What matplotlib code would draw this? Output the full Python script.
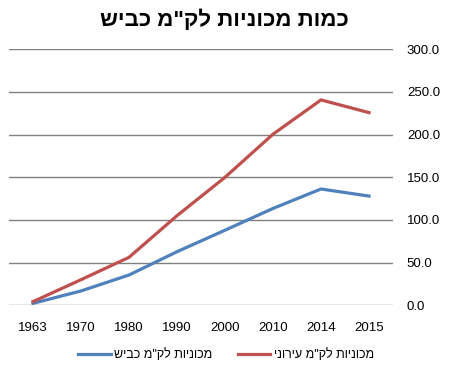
import matplotlib
matplotlib.use('Agg')
import matplotlib.pyplot as plt
import numpy as np

# values
years = ['1963', '1970', '1980', '1990', '2000', '2010', '2014', '2015']
road_km = [2.3, 16.8, 35.5, 62.8, 88.0, 113.5, 136.3, 128.0]
urban_km = [4.3, 30.0, 56.2, 105.0, 150.0, 200.5, 240.7, 225.8]

title = 'כמות מכוניות לק"מ כביש'
label_road = 'מכוניות לק"מ כביש'
label_urban = 'מכוניות לק"מ עירוני'


def rtl(s):
    # matplotlib has no bidi support, so flip Hebrew strings for display
    return s[::-1]


plt.rcParams['font.family'] = ['Liberation Sans', 'DejaVu Sans']

fig = plt.figure(figsize=(4.51, 3.79), dpi=100)
ax = fig.add_axes([9 / 451, 1 - 305.3 / 379, 384 / 451, 256 / 379])

x = np.arange(len(years))
ax.plot(x, road_km, color='#4F81BD', linewidth=2.3, label=rtl(label_road))
ax.plot(x, urban_km, color='#C0504D', linewidth=2.3, label=rtl(label_urban))

ax.set_xlim(-0.5, len(years) - 0.5)
ax.set_ylim(0, 300)
ax.set_yticks(np.arange(0, 301, 50))
ax.set_yticklabels([f'{v:.1f}' for v in np.arange(0, 301, 50)])
ax.set_xticks(x)
ax.set_xticklabels(years)
ax.yaxis.tick_right()
ax.tick_params(axis='both', length=0, labelsize=9.5)
ax.tick_params(axis='y', pad=10)
ax.tick_params(axis='x', pad=12)

ax.grid(axis='y', color='#808080', linewidth=1)
ax.set_axisbelow(True)
for s in ax.spines.values():
    s.set_visible(False)

fig.text(0.497, 1 - 20 / 379, rtl(title), ha='center', va='center',
         fontsize=16, fontweight='bold')

fig.legend(loc='center', bbox_to_anchor=(226 / 451, 1 - 355 / 379), ncol=2,
           frameon=False, fontsize=9, handlelength=2.6, columnspacing=2.0,
           handletextpad=0.3)

fig.savefig('out.png', dpi=100)
